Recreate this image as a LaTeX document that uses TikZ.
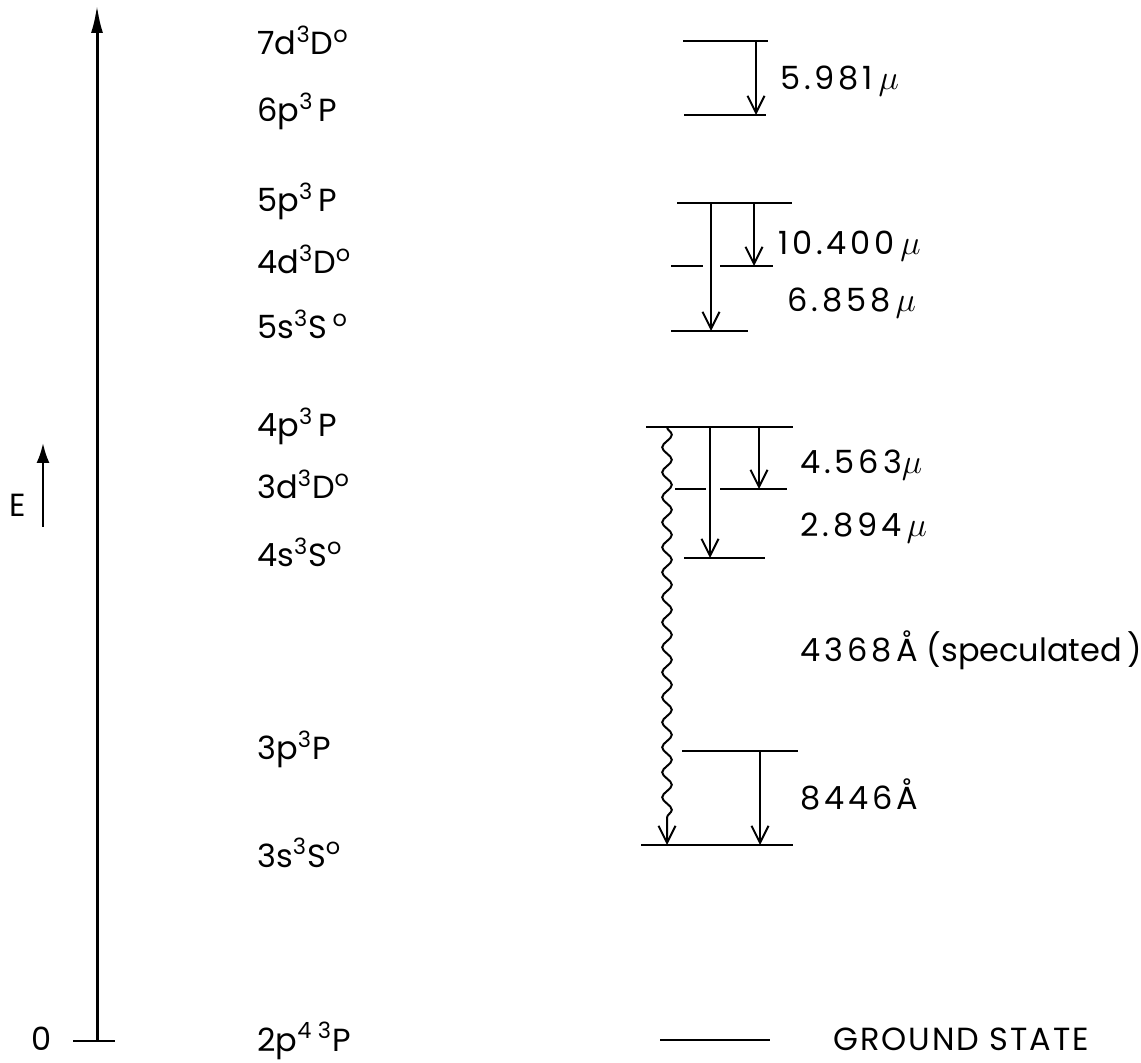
\documentclass[tikz,border=0pt]{standalone}
\usepackage{fontspec}
\setmainfont{Poppins}
\usetikzlibrary{arrows.meta,decorations.pathmorphing}
\newcommand{\spc}[1]{{\addfontfeature{LetterSpace=12}#1}}

\begin{document}
\begin{tikzpicture}[
    x=0.5pt,
    y=-0.5pt,
    every node/.style={font=\fontsize{16}{18}\selectfont, inner sep=0pt},
    level/.style={draw=black, line width=1.4pt},
    trans/.style={-{Straight Barb[length=8.5pt,width=8.5pt]}, line width=1pt},
    wavy/.style={trans, decorate, decoration={snake, amplitude=2.4pt, segment length=12.5pt, post length=9pt}},
    axis/.style={-{Latex[length=14pt,width=6pt]}, line width=1.5pt},
    term/.style={anchor=base west},
    wlabel/.style={anchor=base west}
  ]
    \useasboundingbox (0,0) rectangle (1141,1063);

    % energy axis
    \coordinate (ax0) at (97,1040);
    \coordinate (ax1) at (97,5);
    \draw[axis] (ax0) -- (ax1);
    \coordinate (tk0) at (73,1041);
    \coordinate (tk1) at (115,1041);
    \draw[line width=1.4pt] (tk0) -- (tk1);
    \node (zero) at (42,1039) {0};

    \coordinate (e0) at (43,527);
    \coordinate (e1) at (43,443);
    \draw[-{Latex[length=10pt,width=6.5pt]}, line width=1.2pt] (e0) -- (e1);
    \node (elabel) at (18,505) {E};

    % levels
    \foreach \n/\y/\xa/\xb in {7d/41/683/768, 6p/115/684/766, 5p/203/677/792,
        5s/331/671/748, 4p/427/646/793, 4s/558/684/765, 3p/751/682/798,
        3s/845/641/793, gs/1040/660/770} {
      \coordinate (\n-l) at (\xa,\y);
      \coordinate (\n-r) at (\xb,\y);
      \draw[level] (\n-l) -- (\n-r);
    }
    \foreach \n/\y/\xa/\xb/\xc/\xd in {4d/266/671/703/720/773, 3d/489/675/706/720/787} {
      \coordinate (\n-l) at (\xa,\y);
      \coordinate (\n-m1) at (\xb,\y);
      \coordinate (\n-m2) at (\xc,\y);
      \coordinate (\n-r) at (\xd,\y);
      \draw[level] (\n-l) -- (\n-m1);
      \draw[level] (\n-m2) -- (\n-r);
    }

    % transitions
    \coordinate (t1a) at (756,41);   \coordinate (t1b) at (756,115);
    \coordinate (t2a) at (754,203);  \coordinate (t2b) at (754,266);
    \coordinate (t3a) at (711,203);  \coordinate (t3b) at (711,331);
    \coordinate (t4a) at (759,427);  \coordinate (t4b) at (759,489);
    \coordinate (t5a) at (710,427);  \coordinate (t5b) at (710,558);
    \coordinate (t6a) at (760,751);  \coordinate (t6b) at (760,845);
    \coordinate (t7a) at (667,427);  \coordinate (t7b) at (667,845);
    \draw[trans] (t1a) -- (t1b);
    \draw[trans] (t2a) -- (t2b);
    \draw[trans] (t3a) -- (t3b);
    \draw[trans] (t4a) -- (t4b);
    \draw[trans] (t5a) -- (t5b);
    \draw[trans] (t6a) -- (t6b);
    \draw[wavy] (t7a) -- (t7b);

    % terms
    \node[term] (n7d) at (257,55) {7d\textsuperscript{3}D\textsuperscript{o}};
    \node[term] (n6p) at (257,122) {6p\textsuperscript{3}\,P};
    \node[term] (n5p) at (257,212) {5p\textsuperscript{3}\,P};
    \node[term] (n4d) at (257,274) {4d\textsuperscript{3}D\textsuperscript{o}};
    \node[term] (n5s) at (257,339) {5s\textsuperscript{3}S\,\textsuperscript{o}};
    \node[term] (n4p) at (257,437) {4p\textsuperscript{3}\,P};
    \node[term] (n3d) at (257,499) {3d\textsuperscript{3}D\textsuperscript{o}};
    \node[term] (n4s) at (257,567) {4s\textsuperscript{3}S\textsuperscript{o}};
    \node[term] (n3p) at (257,760) {3p\textsuperscript{3}P};
    \node[term] (n3s) at (257,867) {3s\textsuperscript{3}S\textsuperscript{o}};
    \node[term] (n2p) at (257,1051) {2p\textsuperscript{4}\,\textsuperscript{3}P};

    % wavelengths
    \node[wlabel] (w1) at (780,90) {\spc{5.981}\,$\mu$};
    \node[wlabel] (w2) at (778,255) {\spc{10.400}\,$\mu$};
    \node[wlabel] (w3) at (787,312) {\spc{6.858}\,$\mu$};
    \node[wlabel] (w4) at (800,474) {\spc{4.563}$\mu$};
    \node[wlabel] (w5) at (800,537) {\spc{2.894}\,$\mu$};
    \node[wlabel] (w6) at (800,662) {\spc{4368\,Å} (speculated\,)};
    \node[wlabel] (w7) at (800,809) {\spc{8446Å}};
    \node[wlabel] (gs) at (833,1050) {{\addfontfeature{LetterSpace=6}GROUND STATE}};
  \end{tikzpicture}
\end{document}
